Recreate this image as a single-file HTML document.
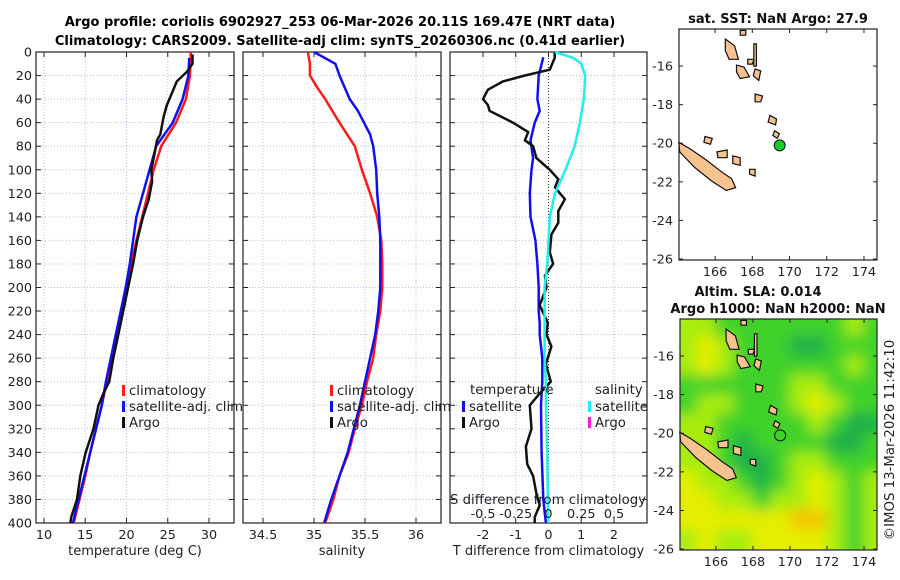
<!DOCTYPE html>
<html><head><meta charset="utf-8"><style>
html,body{margin:0;padding:0;background:#fff;}
svg{display:block;font-family:"DejaVu Sans","Liberation Sans",sans-serif;}
</style></head><body>
<svg id="fig" width="900" height="580" viewBox="0 0 900 580" xmlns="http://www.w3.org/2000/svg">
<defs>
<filter id="blur" x="-5%" y="-5%" width="110%" height="110%"><feGaussianBlur stdDeviation="7"/></filter>
<clipPath id="mapclip2"><rect x="680" y="319" width="197" height="231"/></clipPath>
</defs>
<text x="340" y="26" text-anchor="middle" font-size="13" font-weight="bold">Argo profile: coriolis 6902927_253 06-Mar-2026 20.11S 169.47E (NRT data)</text>
<text x="340" y="45" text-anchor="middle" font-size="13" font-weight="bold">Climatology: CARS2009. Satellite-adj clim: synTS_20260306.nc (0.41d earlier)</text>
<g id="layer"></g>
</svg>
<script>
// ---------- data ----------
const depthTicks = [0,20,40,60,80,100,120,140,160,180,200,220,240,260,280,300,320,340,360,380,400];
const tempTicks = [10,15,20,25,30];
const salTicks = [34.5,35,35.5,36];
const tdiffTicks = [-2,-1,0,1,2];
const sdiffTicks = [-0.5,-0.25,0,0.25,0.5];
const sdiffTickLabels = ["-0.5","-0.25","0","0.25","0.5"];

const climDepth = [0,20,40,60,80,100,120,140,160,180,200,220,240,260,280,300,320,340,360,380,400];
const climTemp = [27.8,27.7,27.2,26.0,24.2,23.3,22.6,21.9,21.2,20.6,20.0,19.4,18.8,18.2,17.6,17.0,16.3,15.6,15.0,14.3,13.6];
const satDepth = [5,20,40,60,80,100,120,140,160,180,200,240,280,300,340,400];
const satTemp = [27.6,27.5,26.8,25.6,23.6,22.8,22.0,21.2,20.8,20.4,19.9,18.7,17.5,17.0,15.6,13.5];
const argoDepth = [2,10,17,25,35,45,55,70,75,90,100,110,125,140,160,180,200,220,240,260,280,290,300,320,340,360,380,395,400];
const argoTemp = [28.0,28.0,27.3,26.1,25.5,24.9,24.5,24.1,23.7,23.3,23.0,23.1,22.7,22.0,21.3,20.8,20.2,19.6,19.0,18.4,17.9,17.2,16.6,16.0,15.05,14.4,14.0,13.3,13.2];

const salDepth = [0,10,20,30,40,60,80,100,120,140,160,180,200,220,240,260,280,300,320,340,360,380,400];
const climSal = [34.94,34.96,34.96,35.03,35.11,35.25,35.40,35.47,35.55,35.62,35.66,35.67,35.67,35.65,35.61,35.58,35.52,35.47,35.40,35.34,35.25,35.19,35.11];
const satSalDepth = [0,10,20,40,50,70,80,100,120,140,160,180,200,220,240,260,280,300,320,340,360,380,400];
const satSal = [35.0,35.21,35.25,35.35,35.43,35.55,35.58,35.61,35.62,35.64,35.65,35.65,35.65,35.63,35.60,35.55,35.50,35.45,35.39,35.33,35.25,35.17,35.10];

const satTdDepth = [4.5,20,40,50,60,75,90,100,120,140,160,180,200,220,230,240,260,280,300,340,380,400];
const satTdiff = [-0.16,-0.30,-0.34,-0.27,-0.42,-0.55,-0.47,-0.52,-0.57,-0.55,-0.40,-0.34,-0.30,-0.30,-0.27,-0.27,-0.19,-0.19,-0.23,-0.21,-0.16,-0.08];
const argoTdDepth = [0,5,15,20,25,32,40,45,50,60,68,75,80,90,100,108,115,125,135,145,155,170,180,190,200,215,230,240,250,265,280,290,295,300,320,335,350,360,375,385,395,400];
const argoTdiff = [0.19,0.19,0.04,-0.72,-1.39,-1.85,-2.0,-1.85,-1.8,-1.08,-0.62,-0.72,-0.47,-0.37,0.04,0.30,0.20,0.50,0.30,0.30,0.09,0.04,0.14,-0.11,-0.06,-0.27,-0.02,-0.06,0.09,-0.08,0.07,-0.27,-0.42,-0.57,-0.52,-0.69,-0.65,-0.47,-0.37,-0.27,-0.42,-0.42];
const satSdDepth = [0,5,10,20,40,60,80,100,120,140,160,180,200,220,240,260,280,300,340,380,400];
const satSdiff = [0.05,0.19,0.25,0.28,0.27,0.24,0.20,0.13,0.05,0.01,0.0,-0.01,-0.03,-0.03,-0.03,-0.03,-0.02,-0.02,-0.01,-0.005,0.0];

const lonTicks = [166,168,170,172,174];
const latTicks = [-16,-18,-20,-22,-24,-26];
const argoLon = 169.47, argoLat = -20.11;
const slaRows = [
 [2,2,1,1,1,1,1,1,1,2,1],
 [2,3,2,1,1,1,0,0,1,1,1],
 [2,3,2,1,1,1,1,1,1,2,1],
 [1,1,1,1,1,1,2,2,1,1,1],
 [1,2,2,1,1,1,2,3,2,1,1],
 [2,2,1,1,1,1,1,2,1,0,0],
 [2,2,1,0,1,1,1,1,0,0,1],
 [2,2,1,0,0,1,2,2,1,1,1],
 [3,2,2,1,0,1,2,3,2,1,2],
 [3,3,2,2,1,2,2,3,2,1,2],
 [3,3,3,3,3,3,4,4,2,1,2],
 [2,3,2,2,3,3,3,3,2,1,2]];
const slaColors = ["#1fb048","#3fd22a","#a8ec08","#e6ee00","#f6c400"];
const islands = [
 [[164.05,-19.95],[164.6,-20.25],[165.5,-20.85],[166.3,-21.45],[166.9,-21.85],[167.1,-22.3],[166.6,-22.45],[165.8,-21.95],[164.9,-21.25],[164.1,-20.45]],
 [[165.45,-19.65],[165.85,-19.75],[165.75,-20.05],[165.4,-19.95]],
 [[166.1,-20.45],[166.65,-20.35],[166.65,-20.75],[166.15,-20.75]],
 [[166.95,-20.65],[167.35,-20.75],[167.35,-21.15],[166.95,-21.05]],
 [[167.85,-21.35],[168.15,-21.35],[168.15,-21.7],[167.85,-21.6]],
 [[166.55,-14.6],[167.05,-14.95],[167.25,-15.65],[166.75,-15.65],[166.55,-15.2]],
 [[167.15,-15.95],[167.55,-16.05],[167.85,-16.55],[167.35,-16.65],[167.15,-16.3]],
 [[168.15,-16.15],[168.45,-16.25],[168.35,-16.75],[168.05,-16.5]],
 [[168.15,-17.45],[168.55,-17.55],[168.45,-17.85],[168.15,-17.85]],
 [[168.95,-18.55],[169.3,-18.75],[169.25,-19.05],[168.85,-18.9]],
 [[169.2,-19.35],[169.45,-19.5],[169.35,-19.75],[169.1,-19.6]],
 [[167.75,-15.65],[168.1,-15.65],[168.0,-15.9],[167.75,-15.9]],
 [[168.08,-14.85],[168.22,-14.85],[168.22,-16.0],[168.08,-16.0]],
 [[167.35,-14.15],[167.65,-14.15],[167.65,-14.4],[167.35,-14.4]]
];

// ---------- helpers ----------
const NS = "http://www.w3.org/2000/svg";
const layer = document.getElementById('layer');
function el(tag, attrs, parent) {
  const e = document.createElementNS(NS, tag);
  for (const k in attrs) e.setAttribute(k, attrs[k]);
  (parent || layer).appendChild(e);
  return e;
}
const Y0 = 52, Y1 = 523;
function yD(d) { return Y0 + d * (Y1 - Y0) / 400; }
function lin(d0, d1, r0, r1) { return v => r0 + (v - d0) * (r1 - r0) / (d1 - d0); }

function panel(name, x0, x1, xScale, xTicks, xLabels, xTitle, showYLabels) {
  const g = el('g', {});
  
  
  xTicks.forEach(t => {
    const gl = el('line', {x1: xScale(t), x2: xScale(t), y1: Y0, y2: Y1, stroke: '#b4c0ec', 'stroke-width': 1, 'stroke-dasharray': '1,2'}, g);
    
    
  });
  depthTicks.forEach(d => {
    const gl = el('line', {x1: x0, x2: x1, y1: yD(d), y2: yD(d), stroke: '#b4c0ec', 'stroke-width': 1, 'stroke-dasharray': '1,2'}, g);
    
    
  });
  depthTicks.forEach(d => {
    el('line', {x1: x0, x2: x0 + 5, y1: yD(d), y2: yD(d), stroke: '#222'}, g);
    el('line', {x1: x1, x2: x1 - 5, y1: yD(d), y2: yD(d), stroke: '#222'}, g);
    if (showYLabels) {
      const t = el('text', {x: x0 - 4, y: yD(d) + 4.5, 'text-anchor': 'end', 'font-size': 12.8, fill: '#222'}, g);
      t.textContent = d;
      
      
    }
  });
  xTicks.forEach((v, i) => {
    el('line', {x1: xScale(v), x2: xScale(v), y1: Y1, y2: Y1 - 5, stroke: '#222'}, g);
    el('line', {x1: xScale(v), x2: xScale(v), y1: Y0, y2: Y0 + 5, stroke: '#222'}, g);
    const t = el('text', {x: xScale(v), y: 539, 'text-anchor': 'middle', 'font-size': 12.8, fill: '#222'}, g);
    t.textContent = xLabels[i];
    
    
  });
  const tt = el('text', {x: (x0 + x1) / 2, y: 555, 'text-anchor': 'middle', 'font-size': 13, fill: '#222'}, g);
  tt.textContent = xTitle;
  
  
  const fr = el('rect', {x: x0, y: Y0, width: x1 - x0, height: Y1 - Y0, fill: 'none', stroke: '#222', 'stroke-width': 1.2}, g);
  
  
  return g;
}
function series(g, name, xs, ds, xScale, color, w) {
  const pts = xs.map((v, i) => xScale(v).toFixed(1) + ',' + yD(ds[i]).toFixed(1)).join(' ');
  const p = el('polyline', {points: pts, fill: 'none', stroke: color, 'stroke-width': w, 'stroke-linejoin': 'round'}, g);
  
  
}
function legendEntry(g, name, x, y, color, label) {
  const m = el('rect', {x: x, y: y - 10, width: 3, height: 11, fill: color}, g);
  
  
  const t = el('text', {x: x + 7, y: y, 'font-size': 13.3, fill: '#222'}, g);
  t.textContent = label;
  
  
}

// ---------- panel 1 ----------
const xT = lin(10, 30, 44, 209);
const p1 = panel('temperature-panel', 36, 234, xT, tempTicks, tempTicks.map(String), 'temperature (deg C)', true);
series(p1, 'climatology-temp-line', climTemp, climDepth, xT, '#ff1a1a', 2.5);
series(p1, 'satellite-temp-line', satTemp, satDepth, xT, '#1010ee', 2.5);
series(p1, 'argo-temp-line', argoTemp, argoDepth, xT, '#111', 2.5);
legendEntry(p1, 'legend-climatology', 122, 395, '#ff1a1a', 'climatology');
legendEntry(p1, 'legend-satellite-adj', 122, 411, '#1010ee', 'satellite-adj. clim');
legendEntry(p1, 'legend-argo', 122, 427, '#111', 'Argo');

// ---------- panel 2 ----------
const xS = lin(34.5, 36, 263, 416);
const p2 = panel('salinity-panel', 243, 441, xS, salTicks, salTicks.map(String), 'salinity', false);
series(p2, 'climatology-sal-line', climSal, salDepth, xS, '#ff1a1a', 2.5);
series(p2, 'satellite-sal-line', satSal, satSalDepth, xS, '#1010ee', 2.5);
legendEntry(p2, 'legend-climatology-sal', 330, 395, '#ff1a1a', 'climatology');
legendEntry(p2, 'legend-satellite-adj-sal', 330, 411, '#1010ee', 'satellite-adj. clim');
legendEntry(p2, 'legend-argo-sal', 330, 427, '#111', 'Argo');

// ---------- panel 3 ----------
const xTd = lin(-2, 2, 483, 614);
const xSd = lin(-0.5, 0.5, 483, 614);
const p3 = panel('difference-panel', 450, 647, xTd, tdiffTicks, tdiffTicks.map(String), 'T difference from climatology', false);
const zl = el('line', {x1: xTd(0), x2: xTd(0), y1: Y0, y2: Y1, stroke: '#333', 'stroke-dasharray': '1,2'}, p3);


series(p3, 'satellite-tdiff-line', satTdiff, satTdDepth, xTd, '#1010ee', 2.5);
series(p3, 'argo-tdiff-line', argoTdiff, argoTdDepth, xTd, '#111', 2.5);
series(p3, 'satellite-sdiff-line', satSdiff, satSdDepth, xSd, '#22eeee', 2.5);
const lt = el('text', {x: 470, y: 394, 'font-size': 13.3, fill: '#222'}, p3);
lt.textContent = 'temperature';


const ls = el('text', {x: 595, y: 394, 'font-size': 13.3, fill: '#222'}, p3);
ls.textContent = 'salinity';


legendEntry(p3, 'legend-t-satellite', 462, 411, '#1010ee', 'satellite');
legendEntry(p3, 'legend-t-argo', 462, 427, '#111', 'Argo');
legendEntry(p3, 'legend-s-satellite', 588, 411, '#22eeee', 'satellite');
legendEntry(p3, 'legend-s-argo', 588, 427, '#ee22cc', 'Argo');
const sdt = el('text', {x: 548, y: 504, 'text-anchor': 'middle', 'font-size': 13.3, fill: '#222'}, p3);
sdt.textContent = 'S difference from climatology';


sdiffTicks.forEach((v, i) => {
  const t = el('text', {x: xSd(v), y: 518, 'text-anchor': 'middle', 'font-size': 12.8, fill: '#222'}, p3);
  t.textContent = sdiffTickLabels[i];
  
  
});

// ---------- maps ----------
function mapPanel(name, x0, y0, x1, y1, field) {
  const g = el('g', {});
  
  
  const lx = lin(164.06, 174.7, x0, x1);
  const ly = lin(-14.08, -26.05, y0, y1);
  if (field) {
    const fg = el('g', {'clip-path': 'url(#mapclip2)'}, g);
    const bg = el('g', {filter: 'url(#blur)'}, fg);
    slaRows.forEach((row, r) => row.forEach((c, k) => {
      const lonA = 164 + k, latA = -14 - r;
      const cell = el('rect', {x: lx(lonA) - 0.5, y: ly(latA) - 0.5, width: lx(lonA + 1) - lx(lonA) + 1, height: ly(latA - 1) - ly(latA) + 1, fill: slaColors[c]}, bg);
      
      
    }));
    slaRows.forEach((row, r) => {
      const latA = -14 - r;
      el('rect', {x: lx(164) - 20, y: ly(latA), width: 20, height: ly(latA - 1) - ly(latA), fill: slaColors[row[0]]}, bg);
      el('rect', {x: lx(175), y: ly(latA), width: 20, height: ly(latA - 1) - ly(latA), fill: slaColors[row[10]]}, bg);
    });
    slaRows[0].forEach((c, k) => el('rect', {x: lx(164 + k), y: ly(-14) - 20, width: lx(165) - lx(164), height: 20, fill: slaColors[c]}, bg));
    slaRows[11].forEach((c, k) => el('rect', {x: lx(164 + k), y: ly(-26), width: lx(165) - lx(164), height: 20, fill: slaColors[c]}, bg));
  }
  islands.forEach(isl => {
    const pts = isl.map(p => lx(p[0]).toFixed(1) + ',' + ly(p[1]).toFixed(1)).join(' ');
    const p = el('polygon', {points: pts, fill: '#f6c290', stroke: '#111', 'stroke-width': 1.2}, g);
    
    
  });
  const dot = el('circle', {cx: lx(argoLon), cy: ly(argoLat), r: 5.5, fill: field ? 'none' : '#11cc22', stroke: '#111', 'stroke-width': 1}, g);
  
  
  lonTicks.forEach(v => {
    el('line', {x1: lx(v), x2: lx(v), y1: y1, y2: y1 - 4, stroke: '#222'}, g);
    el('line', {x1: lx(v), x2: lx(v), y1: y0, y2: y0 + 4, stroke: '#222'}, g);
    const t = el('text', {x: lx(v), y: y1 + 16, 'text-anchor': 'middle', 'font-size': 12.8, fill: '#222'}, g);
    t.textContent = v;
    
    
  });
  latTicks.forEach(v => {
    el('line', {x1: x0, x2: x0 + 4, y1: ly(v), y2: ly(v), stroke: '#222'}, g);
    el('line', {x1: x1, x2: x1 - 4, y1: ly(v), y2: ly(v), stroke: '#222'}, g);
    const t = el('text', {x: x0 - 6, y: ly(v) + 4.5, 'text-anchor': 'end', 'font-size': 12.8, fill: '#222'}, g);
    t.textContent = v;
    
    
  });
  const fr = el('rect', {x: x0, y: y0, width: x1 - x0, height: y1 - y0, fill: 'none', stroke: '#222', 'stroke-width': 1.2}, g);
  
  
  return g;
}
const m1 = mapPanel('sst-map', 679, 29, 877, 260, false);
const m2 = mapPanel('sla-map', 680, 319, 877, 550, true);
function label(txt, name, x, y, opts) {
  const t = el('text', Object.assign({x: x, y: y, 'text-anchor': 'middle', 'font-size': 13, 'font-weight': 'bold', fill: '#111'}, opts || {}));
  t.textContent = txt;
  
  
}
label('sat. SST: NaN Argo: 27.9', 'sst-map-title', 778, 23);
label('Altim. SLA: 0.014', 'sla-map-title', 758, 296);
label('Argo h1000: NaN h2000: NaN', 'argo-height-title', 778, 313);
label('©IMOS 13-Mar-2026 11:42:10', 'timestamp-credit', 0, 0, {'font-weight': 'normal', 'font-size': 13.3, fill: '#222', transform: 'translate(894,440) rotate(-90)'});
</script>
</body></html>
